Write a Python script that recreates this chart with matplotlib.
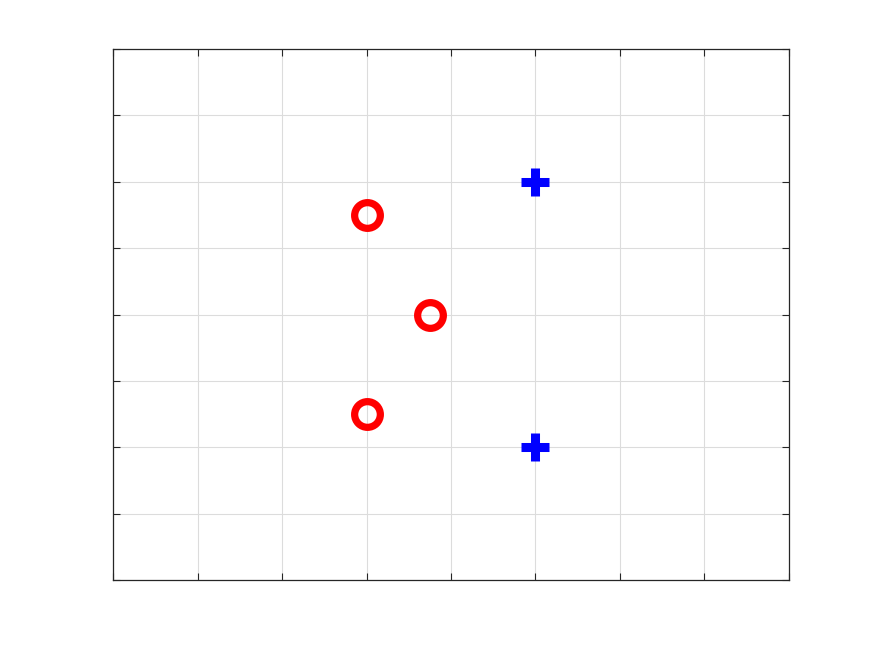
import numpy as np
import matplotlib
matplotlib.use('Agg')
import matplotlib.pyplot as plt

# data
zeros_x = [1.0, 1.0]
zeros_y = [2.0, -2.0]
poles_x = [-1.0, -0.25, -1.0]
poles_y = [1.5, 0.0, -1.5]

xticks = np.arange(-4, 4.5, 1.0)
yticks = np.arange(-4, 4.5, 1.0)

fig = plt.figure(figsize=(8.72, 6.52), dpi=100)
ax = fig.add_axes([0.1296, 0.1104, 0.7752, 0.8144])

ax.plot(zeros_x, zeros_y, '+', color='#0000ff', markersize=20, mew=6.5, linestyle='none')
ax.plot(poles_x, poles_y, 'o', markerfacecolor='none', markeredgecolor='#ff0000',
        markersize=18.5, mew=5.2, linestyle='none')

ax.set_xlim(-4, 4); ax.set_ylim(-4, 4)
ax.set_xticks(xticks); ax.set_yticks(yticks)
ax.set_xticklabels([]); ax.set_yticklabels([])
ax.tick_params(direction='in', length=5, width=0.8, color='#262626',
               top=True, right=True)
ax.grid(True, color='#dcdcdc', linewidth=0.8)
ax.set_axisbelow(True)
for s in ax.spines.values():
    s.set_color('#262626'); s.set_linewidth(0.9)

fig.savefig('out.png', dpi=100)
